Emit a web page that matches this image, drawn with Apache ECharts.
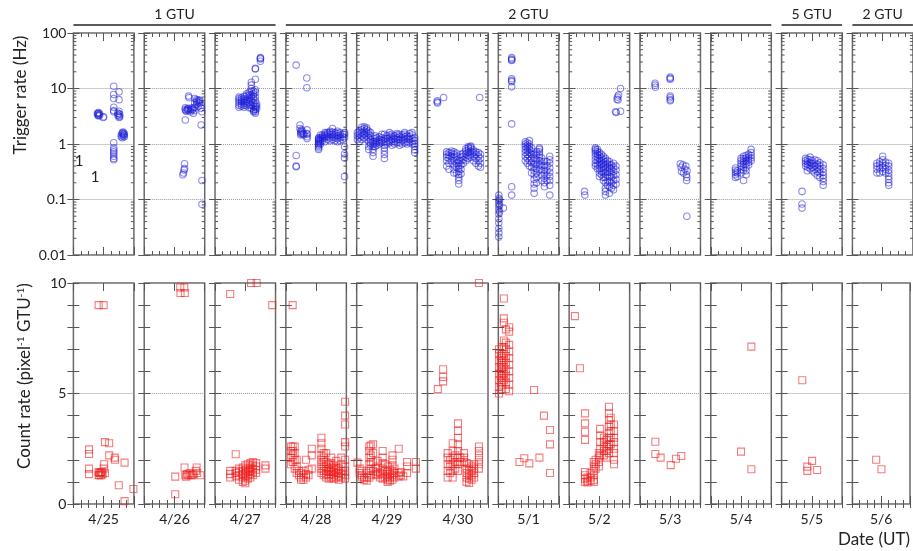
<!DOCTYPE html>
<html><head><meta charset="utf-8">
<script src="https://cdn.jsdelivr.net/npm/echarts@6/dist/echarts.min.js"></script>
<style>html,body{margin:0;padding:0;background:#fff}#c{width:913px;height:551px}</style>
</head><body><div id="c"></div>
<script>
// ---------------- DATA ----------------
const dates = ['4/25','4/26','4/27','4/28','4/29','4/30','5/1','5/2','5/3','5/4','5/5','5/6'];
const groupLabels = ['1 GTU','2 GTU','5 GTU','2 GTU'];
const groupSpans = [[0,2],[3,9],[10,10],[11,11]];
const trigTicks = [0.01,0.1,1,10,100];
const countTicks = [0,5,10];
const strayLabels = ['1','1'];

// trigger rate (Hz): [hour of day (UT), [values...]]
const trig0425 = [[9.5,[3.5]],[9.7,[3.3,3.6]],[10,[3.4,3.2,3.7]],[10.4,[3.3,3.5]],[11.8,[3.0]],[12,[3.1]],
 [16,[11,7.8,6.6,4.6,4.0,3.8,1.05,0.85,0.78,0.72,0.66,0.6,0.55,0.52]],
 [17.6,[3.6,3.3]],[18.1,[8.7,6.3,3.9,3.5,3.2,3.0]],[18.4,[3.4,3.1]],
 [19,[1.45,1.35]],[19.4,[1.55,1.3,1.6]],[19.8,[1.5,1.4,1.65]],[20.2,[1.45,1.35,1.55]]];
const trig0426 = [[15.3,[0.28]],[15.6,[0.3]],[15.8,[0.34]],[16,[0.44,0.36]],
 [16.3,[2.7,4.2,4.5]],[16.6,[4.0,3.9]],[17.2,[4.3,4.1]],[17.6,[7.3,4.4]],[17.8,[6.8,4.0]],[18.4,[4.2,3.8]],
 [19,[4.5,4.1]],[19.5,[4.3,3.6]],[20,[6.6,5.5,4.6,4.0]],[20.8,[6.3,5.8,5.2]],[21.4,[6.1,5.6,4.8]],
 [22,[5.9,6.2,5.4]],[22.6,[5.0,4.4,2.2]],[22.9,[3.8,0.22,0.082]]];
const trig0427 = [[9.5,[5.0,5.5,6.0,6.5,4.6,7.0]],[10.5,[5.2,5.8,6.3,4.8,6.8]],[11.5,[5.5,6.0,6.6,7.2,5.0,4.6]],
 [12.5,[5.3,5.9,6.4,7.3,8.0,4.9]],[13.5,[5.6,6.2,6.9,7.6,8.5,5.1,4.5]],[14.4,[6.0,6.7,7.5,9,10,11.5,13,5.0,4.4]],
 [15.3,[5.5,6.5,7.2,8,9,4.8,4.2,4.0,3.8]],[16,[4.2,4.6,5.0,6,7,8.5,9.5,14.7,22.4,23,3.6,3.8]],
 [16.5,[4.3,4.8,5.3]],[18,[31,34,36,35]]];
const trig0428 = [[4.1,[26.4,0.62,0.39,0.4]],[8.3,[15.5,10.3]],
 [5.6,[2.2,1.9]],[5.9,[1.7,1.55,1.45]],[6.2,[1.8,1.6]],[6.6,[1.5,1.7]],[7.1,[1.55,1.45]],[8.4,[1.8,1.55,1.35,1.25,1.5]],
 [13,[0.8,0.85,0.9,0.95,1.0,1.05,1.1,1.15,1.2,1.25,1.3]],[13.7,[1.0,1.1,1.2,1.3,1.45]],[14.5,[1.15,1.25,1.35,1.45]],
 [15.5,[1.1,1.3,1.4,1.5,1.6]],[16.5,[1.2,1.35,1.5,1.6]],[17.5,[1.15,1.3,1.45,1.6,1.7]],[18.5,[1.2,1.35,1.5,1.65,1.9]],
 [19.5,[1.15,1.3,1.45,1.6]],[20.5,[1.1,1.25,1.4,1.55,1.7]],[21.5,[1.15,1.3,1.45,1.6]],[22.5,[1.2,1.35,1.5]],
 [23.3,[1.3,1.5,1.6,0.89,0.66,0.56,0.26]]];
const trig0429 = [[0.3,[1.2,1.4,1.6]],[1,[1.1,1.3,1.5,1.7]],[2,[1.2,1.4,1.6,1.8,2.0]],[3,[1.3,1.5,1.7,1.9,2.05]],
 [4,[1.2,1.4,1.6,1.8,1.95]],[4.8,[0.8,0.9,1.1,1.3,1.5,1.7]],[5.5,[0.95,1.05,1.2,1.4,1.6]],[6.5,[0.6,0.7,0.8,0.9,1.0,1.1]],
 [7.3,[0.9,1.0,1.1,1.25,1.4]],[8,[0.95,1.05,1.15,1.3]],[9,[1.0,1.1,1.2,1.35]],[10,[1.05,1.15,1.3,1.5]],
 [11,[0.55,0.65,0.75,0.85,0.95,1.1,1.25,1.5]],[12,[1.0,1.1,1.25,1.4]],[13,[1.05,1.15,1.3,1.45,1.6]],
 [14,[0.95,1.1,1.2,1.35,1.5]],[15,[1.0,1.1,1.25,1.4]],[16,[1.05,1.2,1.3,1.45,1.55]],[17,[0.95,1.05,1.2,1.35,1.5]],
 [18,[1.0,1.15,1.3,1.45]],[19,[1.05,1.2,1.35,1.5,1.6]],[20,[1.0,1.1,1.25,1.4]],[21,[1.05,1.2,1.35,1.55]],
 [22,[1.0,1.1,1.25,1.45,1.6]],[23,[0.7,0.78,0.9,1.0,1.15,1.3]]];
const trig0430 = [[3.8,[5.7]],[3.9,[6.0]],[4.0,[5.5]],[6.4,[6.9]],[20.7,[6.9]],
 [7.6,[0.5,0.58,0.65,0.72,0.4]],[8.5,[0.45,0.55,0.62,0.7,0.35]],[9.5,[0.5,0.6,0.68,0.75]],
 [10.5,[0.35,0.42,0.5,0.58,0.65,0.72,0.3]],[11.5,[0.3,0.38,0.45,0.52,0.6,0.68]],
 [12.4,[0.19,0.22,0.25,0.28,0.32,0.36,0.4,0.45,0.5]],[13.3,[0.29,0.35,0.42,0.5,0.58,0.65]],[14.2,[0.45,0.52,0.6,0.68]],
 [15.2,[0.5,0.58,0.66,0.75,0.82]],[16.2,[0.55,0.62,0.7,0.78,0.85,0.9]],[17.2,[0.58,0.66,0.74,0.82,0.88,0.92]],
 [18.2,[0.5,0.6,0.7,0.78]],[19.2,[0.45,0.55,0.65,0.72]],[20.2,[0.4,0.5,0.6,0.7]],[21,[0.38,0.45,0.55,0.65]]];
const trig0501 = [[0.2,[0.12,0.105,0.095,0.085,0.075,0.065,0.055,0.045,0.038,0.03,0.025,0.021]],[0.5,[0.1,0.08,0.06]],[2,[0.07]],
 [5.3,[36,34,32,33,15,14,13.3,10.7,2.3,0.17,0.12]],
 [10.7,[0.5,0.6,0.7,0.8,0.9,1.0,1.1]],[11.5,[0.45,0.55,0.65,0.75,0.85,0.95,1.05]],[12.3,[0.4,0.5,0.6,0.7,0.8,0.9,1.0,1.15]],
 [13.2,[0.3,0.38,0.46,0.55,0.65,0.75,0.85]],[14.2,[0.13,0.16,0.19,0.23,0.28,0.33,0.39,0.45,0.55,0.65]],
 [15.2,[0.2,0.25,0.3,0.36,0.43,0.52,0.62,0.72]],[16.3,[0.35,0.42,0.5,0.58,0.65,0.72,0.8,0.85]],
 [17.2,[0.22,0.27,0.33,0.4,0.48,0.56]],[18.3,[0.17,0.2,0.24,0.29,0.34,0.41,0.49]],[19.3,[0.22,0.27,0.33,0.4,0.48]],
 [20.4,[0.12,0.18,0.22,0.26,0.31,0.37,0.45,0.52,0.6]]];
const trig0502 = [[6.1,[0.14]],[6.2,[0.12]],[18.4,[3.8]],[18.7,[3.7]],[19,[6.4]],[19.2,[7.0]],[19.4,[6.2]],[19.6,[7.6]],[20.4,[10,3.9]],
 [10.4,[0.85,0.8,0.75,0.68,0.6,0.52,0.45,0.4]],[11.2,[0.8,0.72,0.65,0.58,0.5,0.42,0.36]],
 [12,[0.7,0.62,0.55,0.48,0.42,0.36,0.3,0.26]],[12.8,[0.65,0.57,0.5,0.43,0.37,0.32,0.28]],
 [13.6,[0.6,0.52,0.45,0.39,0.34,0.3,0.25,0.22]],[14.4,[0.55,0.48,0.42,0.36,0.3,0.25,0.2,0.16,0.14,0.12]],
 [15.2,[0.5,0.44,0.38,0.32,0.27,0.22,0.18]],[16,[0.48,0.42,0.36,0.31,0.26,0.21,0.17,0.13]],
 [16.8,[0.42,0.36,0.3,0.25,0.2,0.16]],[17.6,[0.45,0.38,0.32,0.27,0.22,0.18,0.15]],[18.6,[0.4,0.34,0.28,0.23,0.19]]];
const trig0503 = [[6,[12.4,11.5]],[6.1,[10.5]],[12,[16,15.2,14.7,7.3,6.8,6.0]],[12.1,[6.3]],
 [16,[0.44]],[16.3,[0.38]],[16.5,[0.32]],[17,[0.42]],[17.3,[0.3]],[17.8,[0.35]],[18.2,[0.4]],[18.4,[0.28]],
 [18.5,[0.22]],[18.6,[0.25,0.05]],[18.7,[0.33]]];
const trig0504 = [[9.8,[0.25,0.28,0.31,0.34,0.37]],[10.5,[0.26,0.3,0.33]],[12,[0.3,0.35,0.4,0.45,0.5,0.55]],
 [13,[0.33,0.38,0.43,0.48,0.54,0.6,0.22]],[14,[0.28,0.33,0.38,0.44,0.5,0.56,0.62]],[15,[0.42,0.47,0.52,0.58,0.65]],
 [16,[0.5,0.56,0.62,0.7,0.8]]];
const trig0505 = [[8.1,[0.14,0.083,0.07]],[10.2,[0.33]],[9.5,[0.4,0.45,0.5,0.55]],[10.3,[0.38,0.43,0.48,0.53]],
 [11.3,[0.36,0.41,0.46,0.52,0.58]],[12.2,[0.33,0.38,0.44,0.5]],[13.2,[0.3,0.35,0.4,0.45,0.52]],
 [14.2,[0.27,0.32,0.37,0.43,0.5]],[15.2,[0.25,0.3,0.35,0.4,0.46]],[16.5,[0.18,0.21,0.24,0.27,0.31,0.36,0.42]]];
const trig0506 = [[9.7,[0.3,0.35,0.4,0.45]],[10.8,[0.3,0.36,0.42,0.48]],[12,[0.32,0.38,0.45,0.52,0.6]],
 [13.2,[0.3,0.35,0.41,0.47]],[14.4,[0.18,0.2,0.23,0.26,0.3,0.34,0.4,0.45]]];

// count rate (pixel^-1 GTU^-1): [hour of day (UT), [values...]]
const count0425 = [[10,[9,1.45,1.3]],[12,[9,1.6]],[6.2,[2.47,2.26,1.6,1.35]],[10.3,[1.3,1.4]],[10.6,[1.4]],[11,[1.3,1.45]],
 [11.3,[1.45]],[11.6,[1.35]],[12.2,[1.8]],[12.5,[1.4,2.8]],[14.2,[2.75,2.2]],[16.4,[2.1]],[16.5,[2.0]],
 [18,[0.85]],[20.3,[1.87,0.13]],[23.8,[0.68]]];
const count0426 = [[14.3,[9.8]],[14.4,[9.55]],[15.9,[9.8]],[16.1,[9.55]],[12.3,[1.24,0.44]],[16,[1.65]],[16.3,[1.3]],
 [16.6,[1.24]],[17,[1.35]],[17.5,[1.3]],[18,[1.4]],[18.5,[1.3]],[19,[1.3]],[19.5,[1.35]],[20.5,[1.5]],
 [20.8,[1.65]],[21,[1.4]],[22.3,[1.3]]];
const count0427 = [[6,[9.5,1.2,1.35,1.5]],[14.3,[10]],[16.5,[10]],[22.7,[9]],[8.2,[2.25,1.25,1.4,1.5]],
 [9.5,[1.1,1.3,1.45,1.6]],[11,[1.0,1.2,1.35,1.5,1.65]],[12,[0.94,1.05,1.25,1.4,1.55,1.75]],
 [13,[1.15,1.3,1.45,1.6,1.8]],[14,[1.2,1.35,1.5,1.65,1.85]],[15,[1.3,1.45,1.6,1.75,1.9]],
 [16.3,[1.4,1.55,1.7,1.85]],[20,[1.6,1.75]]];
const count0428 = [[2.7,[9.0,1.9,2.2,2.4,2.6]],[2,[1.8,2.1,2.4,2.6]],[3.5,[1.6,2.0,2.3,2.6]],[4.3,[1.4,1.7,2.0]],
 [5.2,[1.3,1.5]],[6,[1.1,1.2,1.4]],[7,[1.1,1.3,1.5]],[8,[1.2,1.35,2.0]],[9,[1.3,1.55]],[10.3,[1.6,2.2,2.5]],
 [14.1,[1.4,1.6,1.8,2.0,2.2,2.5,2.75,3.0]],[15,[1.3,1.5,1.7,1.9,2.1,2.3]],[16,[1.2,1.35,1.5,1.7,1.9,2.3]],
 [17,[1.15,1.3,1.45,1.6,1.8]],[18,[1.2,1.35,1.5,1.65,1.85,2.1]],[19,[1.15,1.3,1.45,1.6,1.75]],
 [20,[1.2,1.4,1.55,1.7,1.95]],[21,[1.1,1.25,1.4,1.6]],[22,[1.2,1.35,1.5,1.8,2.1]],
 [23.5,[1.15,1.3,1.5,1.7,2.0,2.6,2.8,3.6,4.0,4.63]]];
const count0429 = [[0.3,[1.87]],[1.2,[1.4,1.6]],[2,[1.2,1.3,1.5]],[3,[1.1,1.2]],[4,[1.05,1.2,1.4]],
 [5,[1.2,1.5,1.8,2.1,2.4,2.6]],[5.6,[1.3,1.6,1.9,2.2,2.65]],[6.5,[1.5,1.9,2.3,2.7]],[7.5,[1.35,1.6]],
 [8.3,[1.3,1.45,1.7,1.95]],[9.3,[1.2,1.4]],[10.3,[1.15,1.35,1.6,1.85,2.1,2.4]],[11.3,[1.2,1.5,1.8]],
 [12.3,[1.0,1.1,1.25,1.45,1.7]],[13.2,[1.05,1.2,1.35,1.55]],[14.2,[1.1,1.3,1.5,1.75,2.0,2.2]],
 [15,[1.2,1.4,1.6]],[16.7,[2.5,1.25,1.4]],[17.5,[1.3,1.45]],[18.5,[1.25]],[20,[1.4,1.7,1.9]],[23.5,[1.6,1.9]]];
const count0430 = [[20.4,[10,1.6,1.8,2.0,2.2,2.4,2.6]],[4.1,[5.2]],[6.2,[6.1,5.75,5.55]],
 [8,[1.2,1.5,1.8,2.1,2.3]],[9,[1.4,1.7,2.0]],[10,[1.2,1.5,1.8,2.1,2.4,2.75]],[11,[1.6,1.9,2.2]],
 [12.1,[1.5,1.8,2.1,2.4,2.7,3.0,3.3,3.65]],[13,[1.9,2.1]],[14.5,[1.9,2.1,2.3]],[15.5,[1.0,1.2,1.4,1.6,1.85]],
 [16.5,[0.95,1.15,1.35,1.55,1.8]],[17.5,[1.1,1.3,1.5,1.7]],[18.5,[1.2,1.4,1.6,1.8]]];
const count0501 = [[0.3,[5.0,5.3,5.6,5.9,6.2,6.5,6.8,7.0]],[1,[5.2,5.5,5.8,6.1,6.4,6.7]],[1.5,[5.4,5.7,6.0,6.3,6.6,7.1]],
 [2.2,[9.3,8.4,8.2,7.4,7.1,6.8,6.5,6.2,5.9,5.6]],[3,[7.9,7.3,7.0,6.7,6.4,6.1,5.8,5.5,5.2]],
 [4.3,[8.0,7.8,7.2,6.9,6.6,6.3,6.0,5.7,5.4,5.1]],[14.2,[5.16]],[18.1,[4.0]],[20.5,[3.35,2.7,1.4]],
 [8.4,[1.9]],[10.3,[2.07]],[12.3,[1.84]],[16.3,[2.1]]];
const count0502 = [[2.3,[8.5]],[4.3,[6.14]],[6.3,[4.1,3.65,3.27,2.9,1.45,1.3,1.15,1.0]],[7.3,[1.2,1.05,0.97]],
 [8.5,[1.4,1.2,1.05]],[9.8,[1.9,1.7,1.5,1.3,1.1,1.0]],[10.5,[2.0,1.8,1.6]],[11.8,[2.3,2.1,1.9,1.7]],
 [12.3,[3.4,3.1,2.8,2.5,2.2]],[13.8,[3.0,2.8,2.6,2.4,2.2]],[14.8,[2.9,2.6,2.4,2.1]],
 [15.8,[4.4,4.1,3.8,3.5,3.2,3.0,2.7,2.5,2.3]],[16.5,[3.9,3.6,3.3,3.0,2.7]],[17.8,[3.6,3.3,3.0,2.8,2.5,2.3,2.0,1.8]]];
const count0503 = [[6.1,[2.82,2.26]],[8.2,[2.1]],[12.2,[1.76]],[14.3,[2.05]],[16.4,[2.17]]];
const count0504 = [[12,[2.37]],[16.1,[7.12,1.57]]];
const count0505 = [[8.2,[5.6]],[10.2,[1.69,1.5]],[12.1,[1.95]],[14.1,[1.54]]];
const count0506 = [[9.9,[2.0]],[12.1,[1.57]]];

const trigByDay = [trig0425,trig0426,trig0427,trig0428,trig0429,trig0430,trig0501,trig0502,trig0503,trig0504,trig0505,trig0506];
const countByDay = [count0425,count0426,count0427,count0428,count0429,count0430,count0501,count0502,count0503,count0504,count0505,count0506];
const trigMinorTicks = [0.02,0.03,0.04,0.05,0.06,0.07,0.08,0.09,0.2,0.3,0.4,0.5,0.6,0.7,0.8,0.9,2,3,4,5,6,7,8,9,20,30,40,50,60,70,80,90];

// ---------------- LAYOUT ----------------
const FONT = 'Lato, "Open Sans", "Liberation Sans", sans-serif';
const L0 = 73.4, PITCH = 70.82, W = 60.5;
const TOPS = [33, 283], HS = [222, 221];
const FRAME = '#6a6a6a', TICK = '#555';

function flat(cols){ const out=[]; cols.forEach(c=>c[1].forEach(v=>out.push([c[0],v]))); return out; }

const grid=[], xAxis=[], yAxis=[], series=[];
for (let r=0;r<2;r++){
  for (let c=0;c<12;c++){
    const g = grid.length;
    grid.push({left:L0+c*PITCH, top:TOPS[r], width:W, height:HS[r], show:true, borderColor:FRAME, borderWidth:1.5, backgroundColor:'transparent', containLabel:false});
    const xi = xAxis.length;
    const baseX = {type:'value', gridIndex:g, min:0, max:24, axisLine:{show:false}, splitLine:{show:false}};
    xAxis.push(Object.assign({}, baseX, {position:'bottom', interval:3, axisTick:{inside:true,length:4,lineStyle:{color:TICK,width:1}}, axisLabel:{show:false}}));
    xAxis.push(Object.assign({}, baseX, {position:'top', interval:3, axisTick:{inside:true,length:4,lineStyle:{color:TICK,width:1}}, axisLabel:{show:false}}));
    xAxis.push(Object.assign({}, baseX, {position:'bottom', interval:12, axisTick:{inside:true,length:8,lineStyle:{color:TICK,width:1}},
      axisLabel:{show:r===1, margin:8, fontFamily:FONT, fontSize:14, color:'#222', formatter:v=> v===12 ? dates[c] : ''}}));
    xAxis.push(Object.assign({}, baseX, {position:'top', interval:12, axisTick:{inside:true,length:8,lineStyle:{color:TICK,width:1}}, axisLabel:{show:false}}));
    const yi = yAxis.length;
    if (r===0){
      yAxis.push({type:'log', logBase:10, gridIndex:g, min:trigTicks[0], max:trigTicks[trigTicks.length-1], position:'left',
        axisLine:{show:false}, axisTick:{inside:true,length:6,lineStyle:{color:TICK}},
        axisLabel:{show:c===0, fontFamily:FONT, fontSize:14, color:'#222', margin:7, formatter:v=>String(v)},
        splitLine:{show:true, lineStyle:{color:'#9a9a9a', type:[1,1], width:1}}});
      yAxis.push({type:'log', logBase:10, gridIndex:g, min:trigTicks[0], max:trigTicks[trigTicks.length-1], position:'right',
        axisLine:{show:false}, axisTick:{inside:true,length:6,lineStyle:{color:TICK}}, axisLabel:{show:false}, splitLine:{show:false}});
      yAxis.push({type:'log', logBase:10, gridIndex:g, min:trigTicks[0], max:trigTicks[trigTicks.length-1], show:false});
      series.push({type:'scatter', xAxisIndex:xi, yAxisIndex:yi, data:flat(trigByDay[c]), symbol:'circle', symbolSize:6.5,
        itemStyle:{color:'rgba(0,0,0,0)', borderColor:'rgba(25,25,215,0.62)', borderWidth:1.1}, silent:true, z:5});
      series.push({type:'custom', xAxisIndex:xi, yAxisIndex:yi, data:trigMinorTicks.map(v=>[0,v]), silent:true, z:4,
        encode:{x:0,y:1},
        renderItem:(params, api)=>{
          const p = api.coord([0, api.value(1)]); const cs = params.coordSys;
          return {type:'group', children:[
            {type:'line', shape:{x1:cs.x, y1:p[1], x2:cs.x+3, y2:p[1]}, style:{stroke:TICK, lineWidth:1}},
            {type:'line', shape:{x1:cs.x+cs.width-3, y1:p[1], x2:cs.x+cs.width, y2:p[1]}, style:{stroke:TICK, lineWidth:1}}]};
        }});
    } else {
      yAxis.push({type:'value', gridIndex:g, min:countTicks[0], max:countTicks[2], interval:countTicks[1]-countTicks[0], position:'left',
        axisLine:{show:false}, axisTick:{show:false},
        axisLabel:{show:c===0, fontFamily:FONT, fontSize:14, color:'#222', margin:7},
        splitLine:{show:true, lineStyle:{color:'#9a9a9a', type:[1,1], width:1}}});
      yAxis.push({type:'value', gridIndex:g, min:0, max:10, interval:1, position:'left',
        axisLine:{show:false}, axisTick:{inside:true,length:6,lineStyle:{color:TICK}}, axisLabel:{show:false}, splitLine:{show:false}});
      yAxis.push({type:'value', gridIndex:g, min:0, max:10, interval:1, position:'right',
        axisLine:{show:false}, axisTick:{inside:true,length:6,lineStyle:{color:TICK}}, axisLabel:{show:false}, splitLine:{show:false}});
      series.push({type:'scatter', xAxisIndex:xi, yAxisIndex:yi, data:flat(countByDay[c]), symbol:'rect', symbolSize:7,
        itemStyle:{color:'rgba(0,0,0,0)', borderColor:'rgba(238,30,30,0.72)', borderWidth:1.1}, silent:true, z:5});
    }
  }
}

const graphic = [];
groupLabels.forEach((t,i)=>{
  const a = L0 + groupSpans[i][0]*PITCH, b = L0 + groupSpans[i][1]*PITCH + W;
  graphic.push({type:'line', shape:{x1:a, y1:25, x2:b, y2:25}, style:{stroke:'#222', lineWidth:1.3}});
  graphic.push({type:'text', x:(a+b)/2, y:14, style:{text:t, font:'14px '+FONT, fill:'#222', align:'center', verticalAlign:'middle'}});
});
graphic.push({type:'text', x:21, y:95, rotation:Math.PI/2, style:{text:'Trigger rate (Hz)', font:'17px '+FONT, fill:'#222', align:'center', verticalAlign:'middle'}});
graphic.push({type:'text', x:25, y:376, rotation:Math.PI/2, style:{text:'Count rate (pixel{s|-1} GTU{s|-1})', font:'17px '+FONT, fill:'#222', align:'center', verticalAlign:'middle',
  rich:{s:{fontSize:10, fontFamily:FONT, fill:'#222', padding:[0,0,9,0]}}}});
graphic.push({type:'text', x:910, y:540, style:{text:'Date (UT)', font:'17px '+FONT, fill:'#222', align:'right', verticalAlign:'middle'}});
graphic.push({type:'text', x:79, y:161, style:{text:strayLabels[0], font:'15px '+FONT, fill:'#222', align:'center', verticalAlign:'middle'}});
graphic.push({type:'text', x:95, y:177, style:{text:strayLabels[1], font:'15px '+FONT, fill:'#222', align:'center', verticalAlign:'middle'}});

const chart = echarts.init(document.getElementById('c'), null, {renderer:'canvas'});
chart.setOption({animation:false, backgroundColor:'#fff', grid, xAxis, yAxis, series, graphic});
</script></body></html>
